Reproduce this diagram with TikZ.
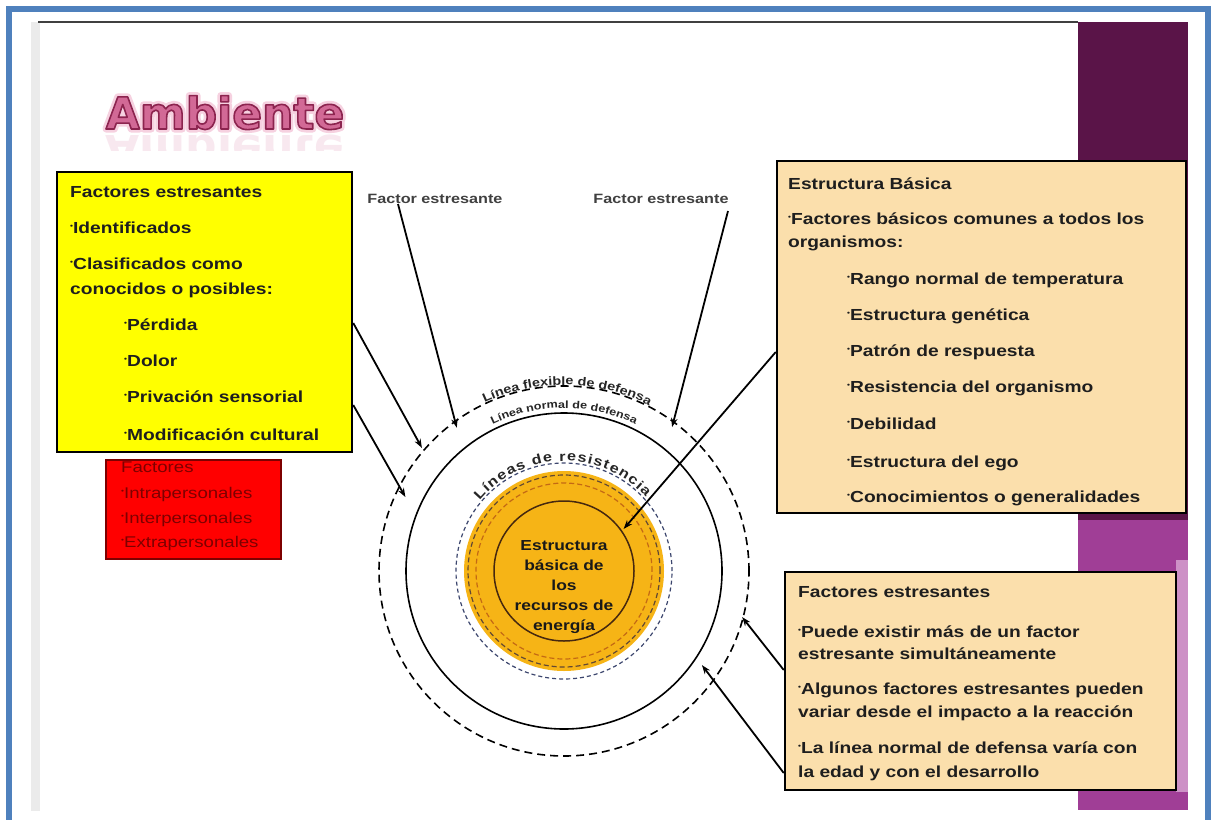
\documentclass[tikz,border=0pt]{standalone}
\usepackage{fontspec}
\setmainfont{Liberation Sans}
\newfontfamily\ws[FakeStretch=1.2]{Liberation Sans}
\newfontfamily\ttl{DejaVu Sans}
\usetikzlibrary{decorations.text,arrows.meta,calc}

\definecolor{frameblue}{RGB}{79,129,189}
\definecolor{purpdark}{RGB}{90,20,72}
\definecolor{purpmid}{RGB}{160,62,150}
\definecolor{purplight}{RGB}{205,145,198}
\definecolor{yfill}{RGB}{255,255,0}
\definecolor{peach}{RGB}{251,223,172}
\definecolor{redfill}{RGB}{255,0,0}
\definecolor{redtxt}{RGB}{125,0,0}
\definecolor{orfill}{RGB}{246,180,22}
\definecolor{ordash}{RGB}{196,105,20}
\definecolor{navy}{RGB}{60,70,110}
\definecolor{brownline}{RGB}{70,40,15}
\definecolor{titlepink}{RGB}{210,105,150}
\definecolor{titleglow}{RGB}{246,210,224}
\definecolor{txtdark}{RGB}{30,30,30}

\newcommand\bl{\raisebox{0.3em}{\fontsize{7}{7}\selectfont\textbullet}}
\newcommand\outlinetxt[1]{\special{pdf:literal direct 2 Tr 1.6 w 1 j 0.55 0.14 0.31 RG}#1\special{pdf:literal direct 0 Tr}}
\newcommand\glowtxt[1]{\special{pdf:literal direct 2 Tr 7 w 1 j 0.965 0.82 0.88 RG}#1\special{pdf:literal direct 0 Tr}}

\tikzset{
  panel/.style={draw=black, line width=2.5pt, inner sep=0, rectangle},
  txt/.style={anchor=base west, inner sep=0, font=\ws\bfseries\fontsize{16}{19}\selectfont, text=txtdark},
  rtxt/.style={anchor=base west, inner sep=0, font=\ws\fontsize{15.5}{18}\selectfont, text=redtxt},
  fslab/.style={anchor=base, inner sep=0, font=\ws\bfseries\fontsize{13.5}{16}\selectfont, text=black!75},
  titlestyle/.style={anchor=base, inner sep=0, font=\ttl\bfseries\fontsize{44}{44}\selectfont},
  arr/.style={line width=1.8pt, draw=black, -{Stealth[length=9pt,width=6.5pt]}},
  ring/.style={circle, inner sep=0, outer sep=0},
}

\begin{document}
\begin{tikzpicture}[x=1pt,y=-1pt]
\useasboundingbox (0,0) rectangle (1214,819);
\fill[white] (0,0) rectangle (1214,819);

% slide edges
\fill[black!8] (31,22) rectangle (40,811);
\draw[black!75, line width=1.2pt] (38,22) -- (1078,22);

% purple side bar
\fill[purpdark] (1078,22) rectangle (1188,520);
\fill[purpmid] (1078,520) rectangle (1188,810);
\fill[purplight] (1176,560) rectangle (1188,792);

% blue frame
\draw[frameblue, line width=6pt] (9,825) -- (9,9) -- (1208,9) -- (1208,825);

% title
\node[titlestyle, text=titleglow] (tglow) at (225,129) {\glowtxt{Ambiente}};
\node[titlestyle, text=titlepink] (title) at (225,129) {\outlinetxt{Ambiente}};
\begin{scope}
  \clip (100,133) rectangle (350,150);
  \node[titlestyle, yscale=-1, opacity=0.15, text=titlepink] (tref) at (225,135) {Ambiente};
\end{scope}

% yellow panel
\node[panel, fill=yfill, minimum width=295pt, minimum height=280pt] (yb) at (204.5,312) {};
\node[txt] (y1) at (70,197) {Factores estresantes};
\node[txt] (y2) at (70,233) {\bl Identificados};
\node[txt] (y3) at (70,269) {\bl Clasificados como};
\node[txt] (y4) at (70,294) {conocidos o posibles:};
\node[txt] (y5) at (124,330) {\bl Pérdida};
\node[txt] (y6) at (124,366) {\bl Dolor};
\node[txt] (y7) at (124,402) {\bl Privación sensorial};
\node[txt] (y8) at (124,440) {\bl Modificación cultural};

% red panel
\node[panel, fill=redfill, draw=redtxt, line width=2pt, minimum width=175pt, minimum height=99pt] (rb) at (193.5,509.5) {};
\begin{scope}
  \clip (106,461) rectangle (281,558);
  \node[rtxt] (r1) at (121,472) {Factores};
  \node[rtxt] (r2) at (121,498) {\bl Intrapersonales};
  \node[rtxt] (r3) at (121,523) {\bl Interpersonales};
  \node[rtxt] (r4) at (121,547) {\bl Extrapersonales};
\end{scope}

% estructura panel
\node[panel, fill=peach, minimum width=409pt, minimum height=352pt] (eb) at (981.5,337) {};
\node[txt] (e1) at (788,189) {Estructura Básica};
\node[txt] (e2) at (788,224) {\bl Factores básicos comunes a todos los};
\node[txt] (e3) at (788,247) {organismos:};
\node[txt] (e4) at (847,284) {\bl Rango normal de temperatura};
\node[txt] (e5) at (847,320) {\bl Estructura genética};
\node[txt] (e6) at (847,356) {\bl Patrón de respuesta};
\node[txt] (e7) at (847,392) {\bl Resistencia del organismo};
\node[txt] (e8) at (847,429) {\bl Debilidad};
\node[txt] (e9) at (847,467) {\bl Estructura del ego};
\node[txt] (e10) at (847,502) {\bl Conocimientos o generalidades};

% bottom panel
\node[panel, fill=peach, minimum width=391pt, minimum height=218pt] (bb) at (980.5,681) {};
\node[txt] (b1) at (798,597) {Factores estresantes};
\node[txt] (b2) at (798,637) {\bl Puede existir más de un factor};
\node[txt] (b3) at (798,659) {estresante simultáneamente};
\node[txt] (b4) at (798,694) {\bl Algunos factores estresantes pueden};
\node[txt] (b5) at (798,717) {variar desde el impacto a la reacción};
\node[txt] (b6) at (798,753) {\bl La línea normal de defensa varía con};
\node[txt] (b7) at (798,777) {la edad y con el desarrollo};

% factor labels
\node[fslab] (fs1) at (435,203) {Factor estresante};
\node[fslab] (fs2) at (661,203) {Factor estresante};

% circles
\begin{scope}[shift={(564,571)}, x=1pt, y=1pt]
  \coordinate (c) at (0,0);
  \node[ring, draw=black, line width=1.6pt, dash pattern=on 8pt off 5pt, minimum size=370pt] (flex) at (c) {};
  \node[ring, draw=black, line width=1.6pt, minimum size=316pt] (norm) at (c) {};
  \node[ring, draw=navy, line width=1.2pt, dash pattern=on 4pt off 3pt, minimum size=216pt] (res) at (c) {};
  \node[ring, fill=orfill, minimum size=200pt] (core) at (c) {};
  \node[ring, draw=brownline!85, line width=1.2pt, dash pattern=on 5pt off 3pt, minimum size=192pt] (rd1) at (c) {};
  \node[ring, draw=ordash, line width=1.2pt, dash pattern=on 5pt off 3pt, minimum size=176pt] (rd2) at (c) {};
  \node[ring, draw=brownline, line width=1.5pt, minimum size=140pt] (inner) at (c) {};
  \node[align=center, inner sep=0, font=\ws\bfseries\fontsize{14.5}{20}\selectfont, text=black!90] (ctr) at (0,-16)
    {Estructura\\básica de\\los\\recursos de\\energía};

  \path[decorate, decoration={text along path, text align=center,
      text={|\ws\bfseries\fontsize{12}{12}\selectfont\color{black!85}|Línea flexible de defensa}}]
      (130:186) arc[start angle=130, end angle=48, radius=186];
  \path[decorate, decoration={text along path, text align=center,
      text={|\ws\bfseries\fontsize{10.5}{11}\selectfont\color{black!85}|Línea normal de defensa}}]
      (130:163) arc[start angle=130, end angle=50, radius=163];
  \path[decorate, decoration={text along path, text align={fit to path},
      text={|\ws\bfseries\fontsize{13.5}{14}\selectfont\color{black!85}|Líneas de resistencia}}]
      (140:110) arc[start angle=140, end angle=42, radius=110];

  \coordinate (a1e) at (126.8:179);
  \coordinate (a2e) at (53.1:180);
  \coordinate (a3e) at (139.1:188);
  \coordinate (a4e) at (155:175);
  \coordinate (a5e) at (35.2:73);
  \coordinate (a6e) at (-14.5:184);
  \coordinate (a7e) at (-34.3:167);
\end{scope}

% arrows
\coordinate (h323) at (0,323);
\coordinate (h405) at (0,405);
\coordinate (h352) at (0,352);
\coordinate (h670) at (0,670);
\coordinate (h773) at (0,773);
\coordinate (a1s) at (398,204);
\coordinate (a2s) at (728,211);
\draw[arr] (a1s) -- (a1e);
\draw[arr] (a2s) -- (a2e);
\draw[arr] (yb.east |- h323) -- (a3e);
\draw[arr] (yb.east |- h405) -- (a4e);
\draw[arr] (eb.west |- h352) -- (a5e);
\draw[arr] (bb.west |- h670) -- (a6e);
\draw[arr] (bb.west |- h773) -- (a7e);
\end{tikzpicture}
\end{document}
